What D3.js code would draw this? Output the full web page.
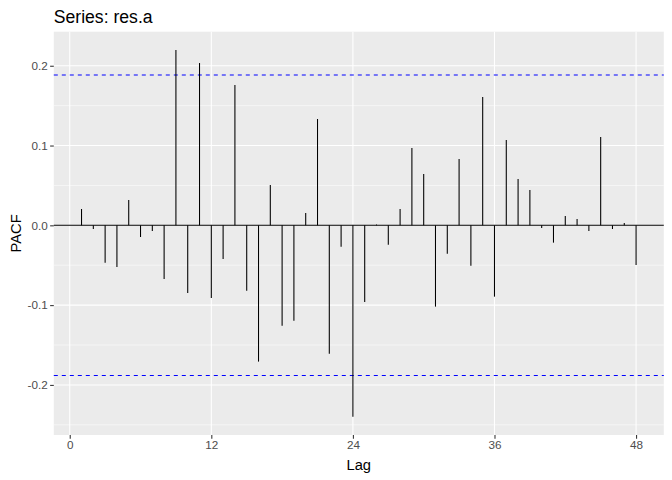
<!DOCTYPE html>
<html>
<head>
<meta charset="utf-8">
<title>Series: res.a</title>
<script src="https://cdn.jsdelivr.net/npm/d3@7"></script>
<style>
  * { margin: 0; padding: 0; }
  body { background: #fff; }
  text { font-family: "Liberation Sans", Arial, sans-serif; }
</style>
</head>
<body>
<script>
// lags and partial autocorrelations
var lags = d3.range(1, 49);
var pacf = [
   0.0205, -0.0046, -0.0468, -0.0522,  0.0317, -0.0146, -0.0071, -0.0673,
   0.2197, -0.0848,  0.2034, -0.0911, -0.0422,  0.1759, -0.0819, -0.1708,
   0.0505, -0.1257, -0.1195,  0.0155,  0.1333, -0.1608, -0.0267, -0.2398,
  -0.0961,  0.0010, -0.0242,  0.0205,  0.0969,  0.0643, -0.1019, -0.0355,
   0.0831, -0.0505,  0.1608, -0.0894,  0.1069,  0.0581,  0.0443, -0.0033,
  -0.0217,  0.0117,  0.0079, -0.0071,  0.1107, -0.0046,  0.0029, -0.0497
];
var ci = 0.1883;              // 1.96 / sqrt(n)
var xTicks = [0, 12, 24, 36, 48];
var yTicks = [-0.2, -0.1, 0, 0.1, 0.2];
var yMinor = [-0.25, -0.15, -0.05, 0.05, 0.15];

var W = 672, H = 480;
var margin = {top: 31.7, right: 8.2, bottom: 45, left: 53.8};
var width = W - margin.left - margin.right,
    height = H - margin.top - margin.bottom;

var svg = d3.select("body").append("svg")
    .attr("width", W)
    .attr("height", H);

// ggplot style 5% expansion
function expand(ext) {
  var d = (ext[1] - ext[0]) * 0.05;
  return [ext[0] - d, ext[1] + d];
}

var x = d3.scaleLinear().domain(expand(d3.extent(lags))).range([0, width]);
var y = d3.scaleLinear().domain(expand(d3.extent(pacf))).range([height, 0]);

var g = svg.append("g")
    .attr("transform", "translate(" + margin.left + "," + margin.top + ")");

// panel
g.append("rect")
    .attr("width", width)
    .attr("height", height)
    .attr("fill", "#EBEBEB");

// grid
g.selectAll(".minor").data(yMinor.filter(function(v) { return y(v) >= 0 && y(v) <= height; }))
  .enter().append("line")
    .attr("x1", 0).attr("x2", width)
    .attr("y1", function(d) { return y(d); })
    .attr("y2", function(d) { return y(d); })
    .attr("stroke", "#fff").attr("stroke-width", 0.53);

g.selectAll(".ymajor").data(yTicks)
  .enter().append("line")
    .attr("x1", 0).attr("x2", width)
    .attr("y1", function(d) { return y(d); })
    .attr("y2", function(d) { return y(d); })
    .attr("stroke", "#fff").attr("stroke-width", 1.07);

g.selectAll(".xmajor").data(xTicks)
  .enter().append("line")
    .attr("y1", 0).attr("y2", height)
    .attr("x1", function(d) { return x(d); })
    .attr("x2", function(d) { return x(d); })
    .attr("stroke", "#fff").attr("stroke-width", 1.07);

// zero line
g.append("line")
    .attr("x1", 0).attr("x2", width)
    .attr("y1", y(0)).attr("y2", y(0))
    .attr("stroke", "#000").attr("stroke-width", 1.07);

// confidence bounds
g.selectAll(".ci").data([ci, -ci])
  .enter().append("line")
    .attr("x1", 0).attr("x2", width)
    .attr("y1", function(d) { return y(d); })
    .attr("y2", function(d) { return y(d); })
    .attr("stroke", "#0000FF").attr("stroke-width", 1.07)
    .attr("stroke-dasharray", "4,4");

// spikes
g.selectAll(".spike").data(lags)
  .enter().append("line")
    .attr("x1", function(d) { return x(d); })
    .attr("x2", function(d) { return x(d); })
    .attr("y1", y(0))
    .attr("y2", function(d, i) { return y(pacf[i]); })
    .attr("stroke", "#000").attr("stroke-width", 1.07);

// axes
var xAxis = g.append("g")
    .attr("transform", "translate(0," + height + ")")
    .call(d3.axisBottom(x).tickValues(xTicks).tickSize(3.67).tickPadding(2.5).tickFormat(d3.format("d")));
var yAxis = g.append("g")
    .call(d3.axisLeft(y).tickValues(yTicks).tickSize(3.67).tickPadding(2.5)
      .tickFormat(function(d) { return d3.format(".1f")(d).replace("\u2212", "-"); }));

[xAxis, yAxis].forEach(function(a) {
  a.select(".domain").remove();
  a.selectAll(".tick line").attr("stroke", "#333333").attr("stroke-width", 1.07);
  a.selectAll(".tick text")
    .attr("fill", "#4D4D4D")
    .style("font-size", "11.7px")
    .style("font-family", "'Liberation Sans', Arial, sans-serif");
});

// titles
svg.append("text")
    .attr("x", margin.left)
    .attr("y", 22.5)
    .style("font-size", "17.6px")
    .attr("fill", "#000")
    .text("Series: res.a");

svg.append("text")
    .attr("x", margin.left + width / 2)
    .attr("y", 470)
    .attr("text-anchor", "middle")
    .style("font-size", "14.7px")
    .attr("fill", "#000")
    .text("Lag");

svg.append("text")
    .attr("transform", "translate(20.5," + (margin.top + height / 2) + ") rotate(-90)")
    .attr("text-anchor", "middle")
    .style("font-size", "14.7px")
    .attr("fill", "#000")
    .text("PACF");
</script>
</body>
</html>
